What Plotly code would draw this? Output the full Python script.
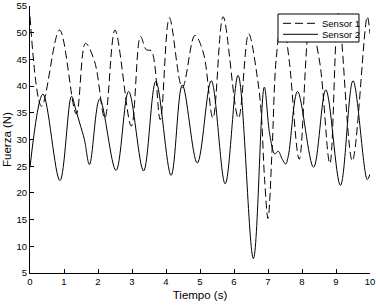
import plotly.graph_objects as go

# Sensor 1 (dashed) — time (s) and force (N)
t1 = [0, 0.34, 0.87, 1.36, 1.63, 1.9, 2.2, 2.5, 2.98, 3.25, 3.42, 3.57, 3.83,
      4.1, 4.48, 4.85, 5.1, 5.38, 5.68, 6.13, 6.43, 6.7, 6.8, 6.9, 7.0, 7.12,
      7.24, 7.42, 7.62, 7.92, 8.24, 8.52, 8.82, 9.07, 9.48, 9.92, 10]
s1 = [53, 36.2, 50.5, 34.8, 48, 44.6, 34, 50.5, 32.5, 49.3, 46.8, 46.6, 33.7,
      52.8, 39.7, 49.5, 46.2, 34, 53, 34, 49.8, 41, 35, 22.5, 15.2, 28,
      45, 53, 45, 26.3, 52, 44.5, 25.5, 53.6, 26, 53, 49.8]

# Sensor 2 (solid)
t2 = [0, 0.38, 0.88, 1.22, 1.35, 1.47, 1.6, 1.75, 2.05, 2.53, 2.9, 3.34, 3.7,
      4.15, 4.48, 4.92, 5.33, 5.74, 6.12, 6.57, 6.89, 7.05, 7.2, 7.3, 7.42,
      7.52, 7.6, 7.87, 8.34, 8.7, 9.13, 9.5, 9.92, 10]
s2 = [24.8, 38.5, 22.3, 38.1, 35.5, 32.9, 30, 25.3, 37.6, 24.2, 39.0, 24.1, 40.9,
      23.3, 40.2, 25.6, 41.0, 21.7, 42.0, 7.7, 39.8, 31, 27.3, 27.8, 26.3,
      25.4, 27, 39.0, 24.8, 39.3, 21.4, 41.0, 22.5, 23.5]

names = ["Sensor 1", "Sensor 2"]
x_ticks = list(range(0, 11))
y_ticks = list(range(5, 56, 5))

FONT = "Liberation Sans, Arial, sans-serif"

fig = go.Figure()
fig.add_trace(go.Scatter(x=t1, y=s1, mode="lines", name=names[0],
                         line=dict(color="black", width=1, dash="8px,4px",
                                   shape="spline", smoothing=1.0)))
fig.add_trace(go.Scatter(x=t2, y=s2, mode="lines", name=names[1],
                         line=dict(color="black", width=1,
                                   shape="spline", smoothing=1.0)))

fig.update_layout(
    template="none",
    width=376, height=305,
    margin=dict(l=30, r=6, t=6, b=32),
    paper_bgcolor="white", plot_bgcolor="white",
    showlegend=False,
    font=dict(family=FONT, color="black", size=9.5),
)
fig.update_xaxes(range=[0, 10], tickvals=x_ticks, ticks="inside", ticklen=4,
                 tickcolor="black", showline=True, linecolor="black", linewidth=1,
                 showgrid=False, zeroline=False, mirror=False,
                 tickfont=dict(size=9.5), ticklabeloverflow="allow",
                 title=dict(text="Tiempo (s)", font=dict(size=11.5), standoff=4))
fig.update_yaxes(range=[5, 55], tickvals=y_ticks, ticks="inside", ticklen=4,
                 tickcolor="black", showline=True, linecolor="black", linewidth=1,
                 showgrid=False, zeroline=False, mirror=False,
                 tickfont=dict(size=9.5), ticklabeloverflow="allow",
                 title=dict(text="Fuerza (N)", font=dict(size=11.5), standoff=2))

# Manual legend box (paper coordinates; plot area spans px y 6..273)
lx0, lx1, ly0, ly1 = 0.7294, 0.9676, 0.8652, 0.9700
fig.add_shape(type="rect", xref="paper", yref="paper", x0=lx0, x1=lx1, y0=ly0, y1=ly1,
              line=dict(color="black", width=1), fillcolor="white", layer="above")
entry_y = [0.9352, 0.8940]
dashes = ["8px,4px", "solid"]
for yy, dsh, nm in zip(entry_y, dashes, names):
    fig.add_shape(type="line", xref="paper", yref="paper", x0=0.7441, x1=0.8471,
                  y0=yy, y1=yy, line=dict(color="black", width=1, dash=dsh), layer="above")
    fig.add_annotation(xref="paper", yref="paper", x=0.8529, y=yy, text=nm,
                       showarrow=False, xanchor="left", yanchor="middle",
                       font=dict(size=9.5, color="black", family=FONT))

fig.write_html("out.html", config={"displayModeBar": False},
               post_script="document.body.style.margin='0';")
